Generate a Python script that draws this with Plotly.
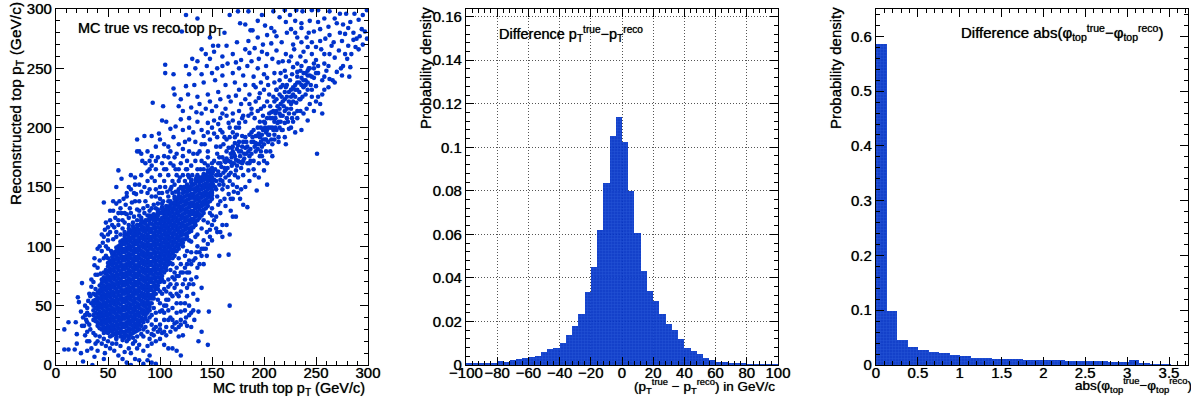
import plotly.graph_objects as go

W, H = 1191, 398
BLUE = "#0033cc"

# ---- Panel 1: sparse, read point by point (truth pT, reco pT in GeV/c)
upper_points = [
(125,295),(136,292),(167,295),(175,298),(185,298),(198,295),(209,298),(220,299),(225,295),(231,299),(237,298),(246,299),(252,299),(263,298),(273,296),(279,296),(287,296),(295,295),(299,299),
(177,288),(182,287),(194,290),(201,286),(215,293),(221,289),(230,290),(236,288),(244,290),(252,289),(262,285),(270,288),(276,287),(283,289),(291,291),(297,281),(121,281),(162,280),(148,276),
(189,282),(187,282),(207,284),(210,281),(222,280),(230,280),(236,284),(243,280),(254,283),(259,275),(263,278),(273,280),(281,284),(286,280),(299,275),(286,274),(267,272),(254,273),(246,272),(236,272),(228,270),(217,272),(207,271),(199,270),(191,267),(182,266),(174,272),(164,269),(156,269),(151,269),
(140,266),(131,258),(125,252),(105,253),(105,246),(113,245),(144,262),(152,264),(160,260),(170,262),(178,257),(186,263),(195,258),(203,262),(212,265),(221,262),(229,266),(238,264),(246,262),(255,266),(263,262),(272,265),(280,258),(291,266),
(134,250),(145,252),(155,250),(165,254),(176,250),(184,252),(194,250),(202,252),(214,255),(224,256),(232,254),(240,256),(250,257),(258,254),(268,259),(276,252),(283,251),(260,248),(252,252),(243,250),(235,248),(228,251),(220,248),(210,246),(200,245),(190,243),(180,244),(170,246),(160,244),(150,246),(140,245),(128,245),
(133,236),(142,238),(153,240),(163,236),(172,238),(182,236),(192,234),(204,236),(215,240),(225,240),(232,243),(240,240),(248,242),(256,240),(263,241),(275,244),(282,243),(270,247),(245,236),(238,234),(230,232),(222,236),(212,232),(205,228),(196,229),(186,228),(176,232),(166,226),(156,230),(146,228),(136,226),(127,228),(114,228),(120,224),(118,218),(125,235),(113,233),
(93,221),(103,218),(106,205),(102,206),(130,217),(122,214),(120,207),(115,201),(110,199),(99,195),(85,193),(92,193),(78,190),(100,190),(113,192),(138,220),(148,222),(158,224),(168,222),(178,220),(188,216),(140,212),(150,214),(160,212),(170,212),(180,210),(128,208),(136,205),(146,204),(156,203),(166,204),(176,200),(132,196),(142,193),(152,195),(162,192),(172,192),(122,198),(124,188),(118,186),(108,184),(96,184),(88,180),(80,180),(92,176),(104,176),(114,175),(128,180),(136,178),(146,180),(154,184),
(228,228),(234,224),(226,216),(238,212),(232,208),(244,220),(250,222),(256,212),(222,208),(216,205),(236,198),(242,206),(230,196),(221,186),(210,190),(206,180),(198,176),(203,152),(251,178),(193,147),(235,224),(252,226),(240,228),(246,232),(266,240),(258,232),(228,205),(224,199),
(268,292),(258,292),(248,281),(241,276),(232,276),(226,283),(212,277),(203,278),(194,276),(185,273),(275,273),(281,269),(288,268),(294,283),(292,277),(278,279),(265,269),(258,262),(250,268),(242,268),(235,260),(226,260),(218,256),(208,258),(198,264),(188,256),(173,255),(160,252),(148,258),(136,256),
(242,248),(248,250),(236,252),(252,246),(258,243),(262,252),(244,244),(238,246),(232,247),(227,245),(221,243),(216,246),(210,238),(203,242),(197,238),(190,236),(182,224),(173,227),(163,216),(154,218),(144,216),(135,213),(128,200),(140,186),(150,200),(158,198),(170,180),(237,226),(231,221),(242,232),(250,235),(256,228),(226,226),(220,230),(216,234),(212,224),
(241,216),(235,214),(229,212),(224,212),(218,198),(214,188),(208,176),(203,170),(200,164),(195,158),(191,160),(186,155),(182,150),(178,148),(175,145),(171,146),(168,140),(163,134),(158,138),(220,192),(226,200),(232,214),(246,226),(248,214),(254,220),(262,234),(268,238),(274,250),(278,262),(284,262),(289,275),(295,270),
(195,225),(200,232),(192,222),(186,220),(176,214),(170,206),(164,210),(158,208),(152,206),(146,196),(140,198),(134,188),(128,190),(122,182),(116,178),(110,180),(104,186),(96,172),(90,165),(102,170),
]
ridge_points = [
(150,158),(153,165),(156,170),(158,160),(160,175),(162,166),(164,180),(166,172),(168,162),(170,184),(172,176),(174,168),(176,188),(178,180),(180,172),(182,192),(184,184),(186,176),(188,196),(190,188),(192,180),(194,200),(196,192),(198,184),(200,205),(202,196),(204,188),(206,208),(208,200),(210,194),(212,214),(214,205),(216,220),(218,210),(220,224),(222,216),(224,230),(226,220),(228,234),(230,226),(232,238),(234,230),(236,242),(238,235),(240,246),(242,238),(244,250),(246,243),(248,254),(250,246),
(152,172),(155,178),(158,184),(161,186),(164,190),(167,192),(170,196),(173,200),(176,204),(179,208),(182,205),(185,210),(188,212),(191,208),(194,214),(197,216),(200,218),(203,222),(206,218),(209,226),(212,232),(215,228),(218,236),(221,234),
(148,150),(151,152),(154,155),(157,152),(160,155),(163,158),(166,160),(169,168),(172,160),(175,172),(178,166),(181,178),(184,170),(187,182),(190,172),(193,186),(196,176),(199,190),(202,180),(205,194),(208,186),(211,200),(214,192),(217,198),(220,204),(223,205),(227,208),(199,198),(201,204),(197,200),(203,208),(205,212),(199,210),(211,208),(213,218),(209,214),(215,212),(217,226),(219,218),(210,222),
(150,170),(146,168),(142,165),(146,175),(140,172),(136,165),(134,172),(130,168),(126,165),(122,160),(118,155),(114,152),(110,148),(138,180),(143,186),(148,190),(155,192),(160,196),(167,200),(174,194),
(150,145),(155,142),(160,148),(165,150),(170,152),(175,158),(180,160),(185,164),(190,165),(195,170),(200,172),(156,135),(162,140),(170,140),(177,140),(184,133),(180,135),(174,150),(166,144),(150,132),(148,128),
(155,160),(163,171),(171,170),(177,176),(183,178),(188,188),(195,195),(192,193),(201,200),(186,194),(180,188),(174,182),(168,178),(162,172),(156,163),(152,156),(158,170),(166,183),(172,187),(179,193),(190,198),(196,205),(204,200),(210,205),(215,216),(207,213),(201,190),(194,182),(186,170),(179,170),(173,164),(167,155),(161,152),(154,148),(149,165),(147,158),(145,150),
(151,163),(154,160),(157,175),(159,167),(161,162),(164,174),(165,166),(168,171),(169,183),(171,178),(173,173),(175,185),(177,171),(179,184),(181,174),(183,188),(185,180),(187,172),(189,192),(191,184),(193,193),(195,186),(197,180),(198,194),(200,186),(202,190),(204,194),(206,200),(207,190),(209,198),(211,212),(213,204),(215,200),(216,210),(218,222),(220,214),(222,226),(224,222),(226,232),(228,222),(230,236),(232,232),(234,238),(236,236),(238,240),(240,236),(242,244),(153,150),(158,156),(163,164),(169,175),(176,180),(182,183),(188,178),(192,187),(197,188),(203,198),(208,208),(212,198),
]
halo_points = [
(46,137),(48,120),(52,122),(46,108),(48,100),(44,96),(40,98),(37,84),(38,76),(36,70),(40,76),(42,88),(42,62),(34,66),(32,60),(30,48),(28,42),(30,36),(32,34),(30,28),
(55,138),(58,136),(62,132),(61,138),(55,130),(60,118),(64,122),(70,124),(67,135),(73,137),(78,131),(80,130),(85,128),(90,130),(94,135),(98,128),(100,140),(104,130),(110,132),(86,138),(80,138),(75,145),(68,142),(60,128),(56,116),(52,112),(50,105),(55,106),(58,108),(62,110),(48,92),(50,98),
(58,150),(63,157),(72,160),(76,158),(82,160),(88,163),(92,158),(96,165),(100,160),(86,170),(92,168),(80,152),(72,148),(68,145),(76,138),(96,148),(100,150),(104,155),(108,160),(112,155),(106,165),(110,170),(115,165),(120,170),(125,165),(118,148),(108,142),(60,164),(83,172),(78,180),(82,178),(70,150),(85,150),(88,145),(92,142),(112,145),(102,145),(105,150),(116,160),(124,155),(128,158),
(24,45),(26,40),(32,42),(34,52),(28,50),(30,44),(33,30),(36,27),(38,25),(40,20),(42,24),(44,18),(46,22),(48,16),(50,20),(52,14),(54,18),(56,12),(58,22),(60,8),(62,16),(66,11),(68,20),(70,14),(72,10),(74,18),(76,20),(78,14),(80,17),(84,12),(88,16),(90,22),(92,18),(94,25),(96,20),(100,22),(104,17),(108,14),(112,14),(116,12),(120,8),(98,28),(102,27),(106,25),(110,28),(115,30),(118,24),(122,25),(126,33),(130,32),(125,40),(120,38),(114,35),(110,40),(104,38),
(8,13),(12,13),(18,13),(8,30),(12,36),(19,36),(20,26),(20,18),(25,33),(27,33),(25,69),(21,57),(22,53),(26,3),(35,0),(37,7),(30,12),(28,25),(32,20),(34,14),(38,18),(46,5),(64,5),(68,2),(72,0),(80,4),(84,1),(88,4),(92,2),(96,1),(90,8),(76,5),(30,20),(40,12),(47,10),(24,10),
(100,45),(104,50),(108,55),(112,48),(116,52),(120,45),(124,52),(128,50),(132,60),(126,65),(120,62),(114,65),(110,68),(106,62),(98,55),(94,48),(90,40),(86,32),(82,26),(78,24),(130,72),(135,74),(128,78),(124,72),(118,75),(114,78),(108,72),(138,85),(142,85),(135,95),(145,92),(157,92),(166,93),(167,50),(147,45),(146,17),(137,20),(140,28),(140,65),(137,45),(133,38),
(112,85),(118,90),(124,92),(130,95),(136,100),(142,105),(148,108),(150,118),(155,112),(160,108),(167,110),(160,118),(154,125),(146,120),(140,115),(134,108),(128,105),(122,100),(116,82),(110,80),(104,70),(120,85),(126,85),(132,88),(140,98),(145,112),(152,122),(158,128),(164,118),(170,125),(173,125),(168,130),(106,55),(102,60),(116,68),
(34,72),(37,90),(40,82),(43,77),(46,90),(33,58),(31,54),(29,38),(36,60),(38,64),(44,110),(50,116),(53,96),(57,124),(63,128),(66,112),(70,118),(75,125),(82,124),(88,134),(93,126),(98,136),(102,136),(108,138),(114,142),(120,150),(126,152),(130,156),(136,160),(142,160),(96,142),(88,155),(76,152),(66,128),
(92,34),(96,38),(100,34),(84,24),(74,23),(70,22),(64,21),(58,18),(52,24),(46,27),(108,46),(112,58),(118,58),(122,68),(116,44),(112,38),(106,32),(126,58),(132,68),(128,88),(136,82),(140,92),(134,118),(142,122),(150,126),(126,96),(120,78),(114,72),(104,44),(100,52),(96,44),(92,42),(88,37),(124,46),(130,44),(118,32),(94,30),
(42,100),(45,103),(47,114),(50,110),(54,118),(52,130),(58,112),(60,122),(64,115),(66,120),(68,127),(72,128),(74,120),(78,122),(80,126),(84,132),(88,126),(92,132),(96,132),(65,140),(71,132),(77,144),(82,146),(90,148),(95,155),(99,145),(103,138),(107,146),(111,150),(115,146),(119,158),(123,150),(127,160),(131,160),(135,158),(139,165),(143,170),(90,172),(98,175),(104,165),(108,175),(113,168),(118,165),(122,176),(126,172),(132,178),
(84,30),(88,28),(92,26),(96,32),(100,30),(104,28),(108,38),(112,32),(116,36),(120,34),(124,36),(128,42),(132,46),(136,55),(120,52),(116,60),(110,60),(106,50),(102,46),(100,62),(104,64),(108,66),(112,74),(116,75),(122,78),(126,78),(130,85),(134,90),(138,95),(142,98),(146,102),(150,105),(154,115),(158,112),(148,114),(144,98),(136,110),(130,104),(124,82),(128,68),
]

# Panel 1: dense core, one reco list per truth column
core_col_x = [36,40,44,48,52,56,60,64,68,72,76,80,84,88,92,96,100,104,108,112,116,120,124,128,132,136,140,144,148]
core_col_y = [
[38,42,46,50,54],
[33,36,40,43,47,50,54,57,61],
[30,34,37,41,44,48,51,55,58,62,65,69,72],
[28,31,35,38,42,45,49,52,56,59,63,66,70,73,77,80],
[29,32,36,39,43,46,50,53,57,60,64,67,71,74,78,81,85,88],
[26,30,33,37,40,44,47,51,54,58,61,65,68,72,75,79,82,86,89,93,95],
[27,31,34,38,41,45,48,52,55,59,62,66,69,73,76,80,83,87,90,94,97,100],
[24,28,32,35,39,42,46,49,53,56,60,63,67,70,74,77,81,84,88,91,95,98,102,105],
[25,29,33,36,40,43,47,50,54,57,61,64,68,71,75,78,82,85,89,92,96,99,103,106,110],
[26,30,34,37,41,44,48,51,55,58,62,65,69,72,76,79,83,86,90,93,97,100,104,107,111,113],
[28,32,35,39,42,46,49,53,56,60,63,67,70,74,77,81,84,88,91,95,98,102,105,109,112,115],
[30,34,37,41,44,48,51,55,58,62,65,69,72,76,79,83,86,90,93,97,100,104,107,111,114,118],
[36,39,43,46,50,53,57,60,64,67,71,74,78,81,85,88,92,95,99,102,106,109,113,116,120],
[44,47,51,54,58,61,65,68,72,75,79,82,86,89,93,96,100,103,107,110,114,117,122],
[52,56,59,63,66,70,73,77,80,84,87,91,94,98,101,105,108,112,115,119,124],
[60,64,67,71,74,78,81,85,88,92,95,99,102,106,109,113,116,120,123,126],
[70,73,77,80,84,87,91,94,98,101,105,108,112,115,119,122,128],
[78,82,85,89,92,96,99,103,106,110,113,117,120,124,127,130],
[85,88,92,95,99,102,106,109,113,116,120,123,127,130,133],
[90,94,97,101,104,108,111,115,118,122,125,129,132,136],
[96,100,103,107,110,114,117,121,124,128,131,135,138,140],
[102,105,109,112,116,119,123,126,130,133,137,140,142],
[106,110,114,117,121,124,128,131,135,138,142,146],
[112,115,119,122,126,129,133,136,140,143,147,150],
[116,120,123,127,130,134,137,141,144,148,152],
[122,126,129,133,136,140,143,147,150,155],
[126,130,134,137,141,144,148,151,155,158],
[132,136,139,143,146,150,153,157,160],
[138,142,145,149,152,156,159,162],
]
# Gap-filling columns between the ones above
fill_col_x = [38,42,46,50,54,58,62,66,70,74,78,82,86,90,94,98,102,106,110,114,118,122,126,130,134,138,142,146,150]
fill_col_y = [
[37,44,52,59],
[31,39,45,52,60,67],
[29,36,42,50,57,64,71,78],
[27,33,40,47,54,61,68,75,83,90],
[25,31,38,45,52,59,66,73,80,87,94],
[23,29,36,43,50,57,64,71,78,85,92,99],
[24,30,37,44,51,58,65,72,79,86,93,100,104],
[23,28,35,42,49,56,63,70,77,84,91,98,105,110],
[24,31,38,45,52,59,66,73,80,87,94,101,108,115],
[27,33,40,47,54,61,68,75,82,89,96,103,110,117],
[29,35,42,49,56,63,70,77,84,91,98,105,112,118],
[33,40,47,54,61,68,75,82,89,96,103,110,117,122],
[39,45,52,59,66,73,80,87,94,101,108,115,122],
[46,52,59,66,73,80,87,94,101,108,115,122,126],
[56,62,69,76,83,90,97,104,111,118,125],
[64,70,77,84,91,98,105,112,119,126,131],
[72,79,86,93,100,107,114,121,128,133],
[80,87,94,101,108,115,122,129,134],
[86,93,100,107,114,121,128,135],
[92,99,106,113,120,127,134,140],
[98,105,112,119,126,133,140,145],
[103,110,117,124,131,138,145],
[108,115,122,129,136,143,149],
[113,120,127,134,141,148,154],
[118,125,132,139,146,153],
[124,131,138,145,152,158],
[128,135,142,149,156,161],
[134,141,148,155,162],
[140,147,154,161,166],
]
fill2_col_y = [
[40,48,55],
[35,42,49,56,63],
[32,39,46,53,60,67,74],
[30,37,43,50,58,65,72,79,86],
[28,34,41,48,55,62,69,76,84,91],
[26,33,40,47,54,61,68,75,82,89,96],
[27,34,40,47,55,62,69,76,83,90,97,102],
[26,32,39,46,53,60,67,74,81,88,95,102,108],
[28,35,41,48,56,63,70,77,84,91,98,105,112],
[30,37,44,51,58,65,72,79,86,93,100,107,114],
[32,38,45,52,60,67,74,81,88,95,102,109,115],
[37,44,51,58,65,72,79,86,93,100,107,114,120],
[42,49,56,63,70,77,84,91,98,105,112,119],
[49,56,63,70,77,84,91,98,105,112,119,124],
[59,66,73,80,87,94,101,108,115,122,127],
[67,74,81,88,95,102,109,116,123,129],
[75,82,89,96,103,110,117,124,131],
[83,90,97,104,111,118,125,132],
[90,97,104,111,118,125,132,138],
[96,103,110,117,124,131,137],
[101,108,115,122,129,136,142],
[106,113,120,127,134,141,148],
[111,118,125,132,139,146],
[116,123,130,137,144,151],
[121,128,135,142,149,156],
[127,134,141,148,155],
[131,138,145,152,159],
[137,144,151,158,164],
[143,150,157,164],
]

# ---- Panel 2: pT difference histogram, 4 GeV bins
pt_bin_left = list(range(-100, 100, 4))
pt_density = [
0.0008,0.0008,0.0010,0.0010,0.0010,0.0018,0.0014,0.0024,0.0026,0.0032,
0.0037,0.0041,0.0060,0.0073,0.0078,0.0100,0.0136,0.0181,0.0233,0.0337,
0.0450,0.0622,0.0836,0.1052,0.1139,0.1023,0.0800,0.0605,0.0432,0.0340,
0.0296,0.0233,0.0190,0.0159,0.0118,0.0078,0.0063,0.0051,0.0032,0.0024,
0.0014,0.0013,0.0011,0.0007,0.0006,0.0004,0.0004,0.0004,0.0003,0.0002,
]

# ---- Panel 3: phi difference histogram
phi_bin_width = 0.1257
phi_density = [
0.586,0.0985,0.0456,0.0335,0.0274,0.0237,0.0213,0.0176,0.0164,0.0134,
0.0122,0.0110,0.0110,0.0103,0.0097,0.0091,0.0091,0.0085,0.0080,0.0073,
0.0067,0.0067,0.0061,0.0061,0.0085,0.0024,0.0010,0.0002,
]

truth_pt, reco_pt = [], []
for pts in (upper_points, ridge_points, halo_points):
    for a, b in pts:
        truth_pt.append(a); reco_pt.append(b)
for cols, vals in ((core_col_x, core_col_y), (fill_col_x, fill_col_y), (fill_col_x, fill2_col_y)):
    for cx, ys in zip(cols, vals):
        for b in ys:
            truth_pt.append(cx); reco_pt.append(b)

FONT = "Liberation Sans"
SHADOW = "0 0 0.7px rgba(0,0,0,0.8)"
fig = go.Figure()
fig.add_trace(go.Scatter(x=truth_pt, y=reco_pt, mode="markers", xaxis="x", yaxis="y",
                         marker=dict(color=BLUE, size=4.6, line_width=0), cliponaxis=True, showlegend=False))
pat = dict(shape=".", size=3, solidity=0.5, fgcolor="#2458dc", bgcolor="#0030c4")
fig.add_trace(go.Bar(x=[v + 2 for v in pt_bin_left], y=pt_density, width=4, xaxis="x2", yaxis="y2",
                     marker=dict(color="#0030c4", line_width=0, pattern=pat, opacity=0.94), showlegend=False))
fig.add_trace(go.Bar(x=[(i + 0.5) * phi_bin_width for i in range(len(phi_density))], y=phi_density,
                     width=phi_bin_width, xaxis="x3", yaxis="y3",
                     marker=dict(color="#0030c4", line_width=0, pattern=pat, opacity=0.94), showlegend=False))

def px_x(p): return p / W
def py_y(p): return 1 - p / H

def ax(domain, rng, dtick, minor_dtick, grid=False, anchor=None, tick0=0, **kw):
    return dict(domain=domain, range=rng, dtick=dtick, tick0=tick0, anchor=anchor, automargin=False, tickangle=0,
                ticks="inside", ticklen=8, tickwidth=1, tickcolor="black",
                showline=True, linecolor="black", linewidth=1.3, mirror="allticks",
                showgrid=grid, gridcolor="#555555", griddash="1px,2px", gridwidth=1, zeroline=False,
                minor=dict(dtick=minor_dtick, tick0=tick0, ticks="inside", ticklen=4, tickwidth=1,
                           tickcolor="black", showgrid=False),
                tickfont=dict(family=FONT, size=15, color="black", shadow=SHADOW), layer="above traces", **kw)

ydom = [py_y(365), py_y(9)]
XSTAND = dict(ticklabelstandoff=-6)
lay = dict(
    width=W, height=H, margin=dict(l=0, r=0, t=0, b=0, autoexpand=False), paper_bgcolor="white", plot_bgcolor="white",
    bargap=0, font=dict(family=FONT, color="black"),
    xaxis=ax([px_x(56), px_x(368)], [0, 300], 50, 10, anchor="y", **XSTAND),
    yaxis=ax(ydom, [0, 300], 50, 10, anchor="x"),
    xaxis2=ax([px_x(466), px_x(778)], [-100, 100], 20, 4, grid=True, anchor="y2", tick0=-100, **XSTAND),
    yaxis2=ax(ydom, [0, 0.1635], 0.02, 0.004, grid=True, anchor="x2"),
    xaxis3=ax([px_x(876), px_x(1188)], [0, 3.727], 0.5, 0.1, anchor="y3", **XSTAND),
    yaxis3=ax(ydom, [0, 0.65], 0.1, 0.02, anchor="x3"),
)
fig.update_layout(**lay)
fig.update_layout(yaxis2=dict(tickmode="array", tickvals=[0, .02, .04, .06, .08, .1, .12, .14, .16],
                              ticktext=["0", "0.02", "0.04", "0.06", "0.08", "0.1", "0.12", "0.14", "0.16"]))

def note(text, x, y, anchor="left", rot=0, size=15.5):
    fig.add_annotation(text=text, xref="paper", yref="paper", x=px_x(x), y=py_y(y), showarrow=False,
                       xanchor=anchor, yanchor="middle", textangle=rot, align=anchor,
                       font=dict(family=FONT, size=size, color="black", shadow=SHADOW))

note("MC true vs reco top p<sub>T</sub>", 76, 29, size=14.5)
note("MC truth top p<sub>T</sub> (GeV/c)", 367, 389, "right", size=14.5)
note("Reconstructed top p<sub>T</sub> (GeV/c)", 16, 104, "center", -90, size=15.5)
note("Difference p<sub>T</sub><sup>true</sup>−p<sub>T</sub><sup>reco</sup>", 497, 34, size=14.5)
note("(p<sub>T</sub><sup>true</sup> − p<sub>T</sub><sup>reco</sup>) in GeV/c", 777, 386, "right", size=13.5)
note("Probability density", 426, 68, "center", -90, size=15)
note("Difference abs(φ<sub>top</sub><sup>true</sup>−φ<sub>top</sub><sup>reco</sup>)", 1165, 32, "right", size=15)
note("abs(φ<sub>top</sub><sup>true</sup>−φ<sub>top</sub><sup>reco</sup>)", 1133, 385, "center", size=13.5)
note("Probability density", 836, 68, "center", -90, size=15)

fig.write_html("out.html", config={"displayModeBar": False},
               post_script="document.body.style.margin='0';")
